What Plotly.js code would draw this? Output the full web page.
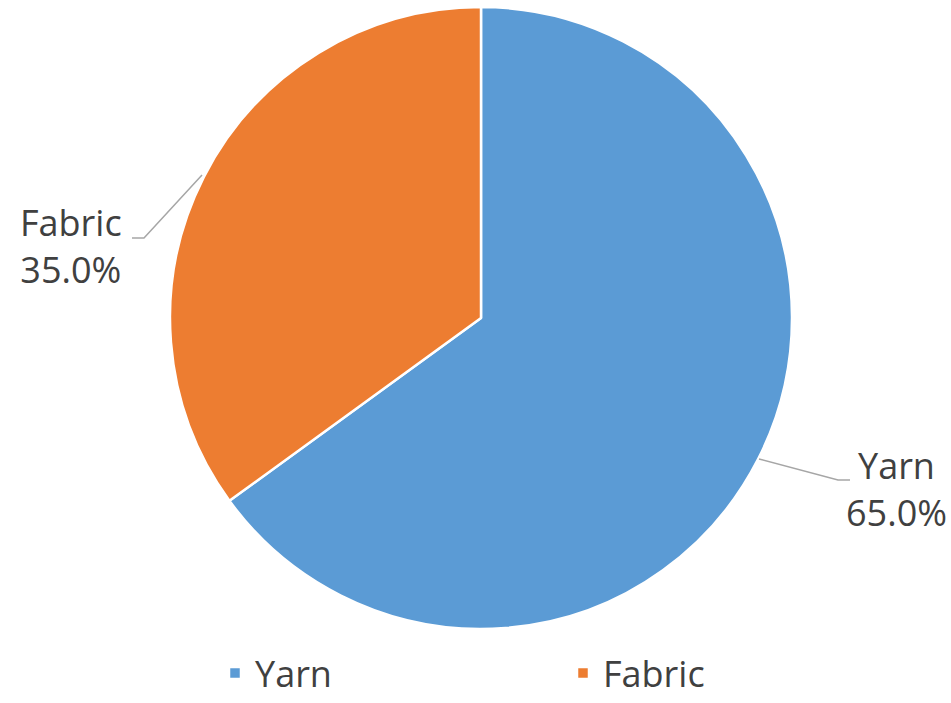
<!DOCTYPE html>
<html>
<head>
<meta charset="utf-8">
<script src="https://cdn.plot.ly/plotly-3.0.1.min.js"></script>
<style>html,body{margin:0;padding:0;background:#fff;}#chart{width:951px;height:703px;}</style>
</head>
<body>
<div id="chart"></div>
<script>
const labels = ['Yarn', 'Fabric'];
const values = [65.0, 35.0];
const colors = ['#5B9BD5', '#ED7D31'];

const W = 951, H = 703;
const px = x => x / W;
const py = y => 1 - y / H;
const FONT = '"Open Sans", Lato, sans-serif';
const TXT = '#404040';

const total = values.reduce((a, b) => a + b, 0);
const pctText = values.map(v => (100 * v / total).toFixed(1) + '%');

// label placement (layout only)
const labelPos = [{x: 896, y: 489}, {x: 71, y: 246}];
const leaderPaths = [
  [[759, 459], [838, 480], [850, 480]],
  [[202, 175], [144, 238], [132, 238]]
];

const annotations = labels.map((l, i) => ({
  xref: 'paper', yref: 'paper',
  x: px(labelPos[i].x), y: py(labelPos[i].y),
  xanchor: 'center', yanchor: 'middle',
  text: l + '<br>' + pctText[i],
  showarrow: false,
  align: 'center',
  font: {family: FONT, size: 36, color: TXT}
}));

const shapes = leaderPaths.map(p => ({
  type: 'path', xref: 'paper', yref: 'paper',
  path: 'M' + p.map(q => px(q[0]) + ',' + py(q[1])).join(' L'),
  line: {color: '#A6A6A6', width: 1.5}
}));

const data = [{
  type: 'pie',
  labels: labels,
  values: values,
  sort: false,
  direction: 'clockwise',
  rotation: 0,
  marker: {colors: colors, line: {color: '#ffffff', width: 2.5}},
  textinfo: 'none',
  hoverinfo: 'label+percent',
  domain: {x: [px(170), px(792)], y: [py(629), py(7)]}
}];

const layout = {
  width: W, height: H,
  margin: {l: 0, r: 0, t: 0, b: 0, autoexpand: false},
  paper_bgcolor: '#ffffff',
  showlegend: true,
  legend: {
    orientation: 'h',
    x: px(215), xanchor: 'left',
    y: 0, yanchor: 'bottom',
    entrywidth: 303, entrywidthmode: 'pixels',
    font: {family: FONT, size: 36, color: TXT},
    itemclick: false
  },
  annotations: annotations,
  shapes: shapes
};

Plotly.newPlot('chart', data, layout, {displayModeBar: false, staticPlot: true});
</script>
</body>
</html>
